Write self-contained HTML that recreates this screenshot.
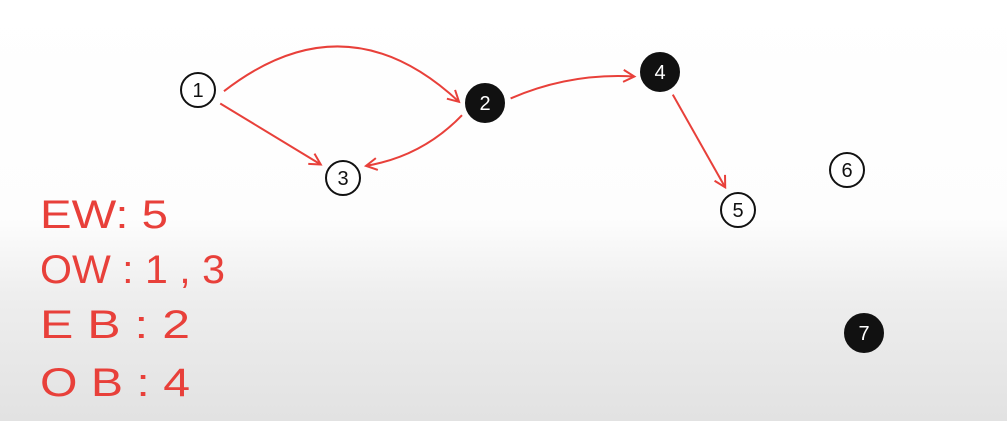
<!DOCTYPE html>
<html><head><meta charset="utf-8"><style>
html,body{margin:0;padding:0;width:1007px;height:421px;overflow:hidden}
svg{display:block}
text{font-family:"Liberation Sans",sans-serif}
</style></head><body>
<svg id="board" width="1007" height="421" viewBox="0 0 1007 421">
<defs>
<linearGradient id="bg" x1="0" y1="0" x2="0" y2="1">
<stop offset="0" stop-color="#ffffff"/>
<stop offset="0.52" stop-color="#fdfdfd"/>
<stop offset="0.7" stop-color="#eeeeee"/>
<stop offset="1" stop-color="#e2e2e2"/>
</linearGradient>
<marker id="ah" markerWidth="14" markerHeight="14" refX="12" refY="7" orient="auto" markerUnits="userSpaceOnUse">
<path d="M1,1 L12,7 L1,13" fill="none" stroke="#e8403a" stroke-width="2"/>
</marker>
</defs>
<rect width="1007" height="421" fill="url(#bg)"/>
<g id="edges"></g>
<g id="nodes"></g>
<g fill="#e8403a" font-size="40">
<text x="40" y="228" textLength="128" lengthAdjust="spacingAndGlyphs">EW: 5</text>
<text x="40" y="283" textLength="185" lengthAdjust="spacingAndGlyphs">OW : 1 , 3</text>
<text x="40" y="338" textLength="150" lengthAdjust="spacingAndGlyphs">E B :  2</text>
<text x="40" y="396" textLength="150" lengthAdjust="spacingAndGlyphs">O B :  4</text>
</g>
</svg>
<script>
const nodeIds=["1","2","3","4","5","6","7"];
const nodeX=[198,485,343,660,738,847,864];
const nodeY=[90,103,178,72,210,170,333];
const nodeBlack=[0,1,0,1,0,0,1];
const edgeFrom=["1","1","2","2","4"];
const edgeTo=["2","3","3","4","5"];
const edgeBend=[-100,0,18,-15,0];
const ns="http://www.w3.org/2000/svg";
const idx=id=>nodeIds.indexOf(id);
const eg=document.getElementById('edges');
for(let i=0;i<edgeFrom.length;i++){
 const a=idx(edgeFrom[i]),b=idx(edgeTo[i]);
 let x1=nodeX[a],y1=nodeY[a],x2=nodeX[b],y2=nodeY[b];
 const dx=x2-x1,dy=y2-y1,L=Math.hypot(dx,dy),ux=dx/L,uy=dy/L;
 x1+=ux*26;y1+=uy*26;x2-=ux*26;y2-=uy*26;
 const mx=(x1+x2)/2-uy*edgeBend[i]*(dx<0?-1:1),my=(y1+y2)/2+ux*edgeBend[i]*(dx<0?-1:1);
 const p=document.createElementNS(ns,'path');
 p.setAttribute('d',`M${x1},${y1} Q${mx},${my} ${x2},${y2}`);
 p.setAttribute('fill','none');p.setAttribute('stroke','#e8403a');p.setAttribute('stroke-width','2');
 p.setAttribute('marker-end','url(#ah)');
 
 
 eg.appendChild(p);
}
const ng=document.getElementById('nodes');
for(let i=0;i<nodeIds.length;i++){
 const g=document.createElementNS(ns,'g');
 
 
 const c=document.createElementNS(ns,'ellipse');
 c.setAttribute('cx',nodeX[i]);c.setAttribute('cy',nodeY[i]);
 c.setAttribute('rx',nodeBlack[i]?19:17);c.setAttribute('ry',nodeBlack[i]?19:17);
 c.setAttribute('fill',nodeBlack[i]?'#111':'#fff');
 c.setAttribute('stroke','#111');c.setAttribute('stroke-width','2');
 g.appendChild(c);
 const t=document.createElementNS(ns,'text');
 t.setAttribute('x',nodeX[i]);t.setAttribute('y',nodeY[i]+7);
 t.setAttribute('text-anchor','middle');t.setAttribute('font-size','20');
 t.setAttribute('fill',nodeBlack[i]?'#fff':'#111');
 t.textContent=nodeIds[i];
 g.appendChild(t);
 ng.appendChild(g);
}
</script>
</body></html>
